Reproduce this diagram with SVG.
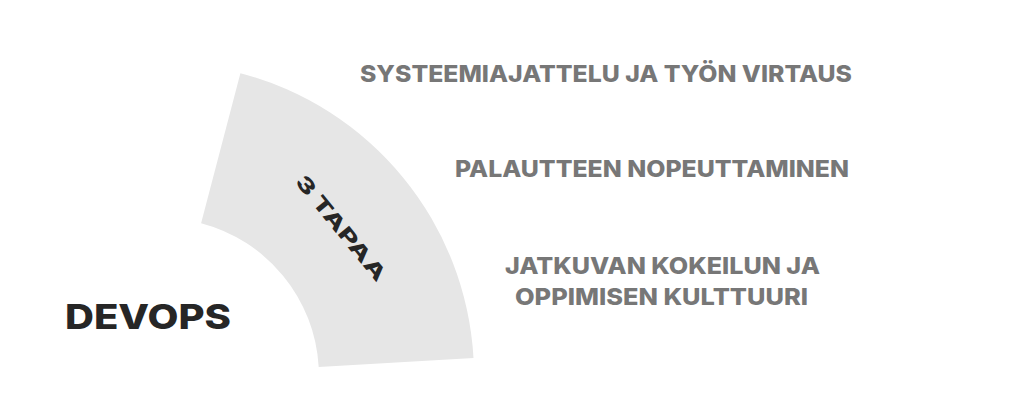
<svg xmlns="http://www.w3.org/2000/svg" width="1024" height="404" viewBox="0 0 1024 404">
<style>
.g{font-family:Inter,"Liberation Sans",Arial,sans-serif;font-weight:800;font-size:23.5px;fill:#777777}
.d{font-family:Inter,"Liberation Sans",Arial,sans-serif;font-weight:800;fill:#262626}
</style>
<rect width="1024" height="404" fill="#ffffff"/>
<g id="sector">
<path d="M240.4 73.2 A313 313 0 0 1 473.5 358 L318.7 366.9 A158 158 0 0 0 201.1 223.2 Z" fill="#e6e6e6"/>
<text class="d" font-size="20" text-anchor="middle" transform="translate(341 228) rotate(50.7)" y="7" textLength="130" lengthAdjust="spacingAndGlyphs">3 TAPAA</text>
</g>
<g id="devops">
<text class="d" font-size="34.5" x="65" y="329" textLength="166" lengthAdjust="spacingAndGlyphs">DEVOPS</text>
</g>
<g id="way1">
<text class="g" x="360" y="82" textLength="492" lengthAdjust="spacingAndGlyphs">SYSTEEMIAJATTELU JA TYÖN VIRTAUS</text>
</g>
<g id="way2">
<text class="g" x="455" y="177" textLength="394" lengthAdjust="spacingAndGlyphs">PALAUTTEEN NOPEUTTAMINEN</text>
</g>
<g id="way3">
<text class="g" x="505" y="274" textLength="315" lengthAdjust="spacingAndGlyphs">JATKUVAN KOKEILUN JA</text>
<text class="g" x="515" y="305" textLength="293" lengthAdjust="spacingAndGlyphs">OPPIMISEN KULTTUURI</text>
</g>
<g id="connectors"></g>
</svg>
